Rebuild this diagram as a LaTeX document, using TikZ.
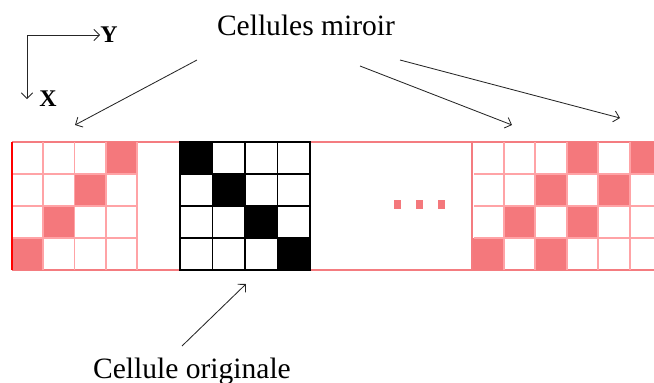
\documentclass[tikz,border=0pt]{standalone}
\usepackage{fontspec}
\setmainfont{Liberation Serif}
\usetikzlibrary{arrows.meta}

\begin{document}
\begin{tikzpicture}[x=0.025cm, y=-0.025cm]
    \def\cellW{31.6}
    \def\cellH{32}

    \definecolor{mirrorFill}{HTML}{F4787C}
    \definecolor{mirrorLine}{HTML}{FFA3A6}
    \definecolor{stripLine}{HTML}{F47C80}

    \tikzset{
        label text/.style={font=\fontsize{21}{25}\selectfont, inner sep=0pt, anchor=base},
        axis text/.style={font=\fontsize{17}{20}\selectfont\bfseries, inner sep=0pt},
        pointer/.style={-{Straight Barb[length=4pt,width=8pt]}, line width=0.6pt, black!85},
        mirror grid/.style={mirrorLine, line width=1.4pt},
    }

    \useasboundingbox (0,0) rectangle (654,383);

    % Axes
    \coordinate (O) at (27,35);
    \node[axis text] (Y) at (109,35) {Y};
    \node[axis text] (X) at (48,99) {X};
    \draw[pointer] (O) -- (O -| Y.west);
    \draw[pointer] (O) -- (O |- X);

    % Strip border
    \draw[stripLine, line width=1.5pt] (12,142) -- (654,142);
    \draw[stripLine, line width=1.5pt] (12,270) -- (654,270);

    % Left mirror cell
    \foreach \c/\r in {3/0,2/1,1/2,0/3}
        \fill[mirrorFill] (12+\c*31.25,142+\r*\cellH) rectangle ++(31.25,\cellH);
    \foreach \i in {1,...,4}
        \draw[mirror grid] (12+\i*31.25,142) -- ++(0,128);
    \foreach \j in {1,2,3}
        \draw[mirror grid] (12,142+\j*\cellH) -- ++(125,0);
    \draw[red, line width=1.2pt] (12,142) -- (12,270);

    % Original cell
    \foreach \k in {0,...,3}
        \fill[black] (180+\k*32.5,142+\k*\cellH) rectangle ++(32.5,\cellH);
    \foreach \i in {1,2,3}
        \draw[black, line width=1.2pt] (180+\i*32.5,142) -- ++(0,128);
    \foreach \j in {1,2,3}
        \draw[black, line width=1.2pt] (180,142+\j*\cellH) -- ++(130,0);
    \draw[black, line width=2pt] (180,142) rectangle (310,270);

    % Dots
    \foreach \x in {397,419,441}
        \fill[mirrorFill] (\x-3.5,200) rectangle ++(7,9);

    % Right mirror cells
    \begin{scope}
        \clip (470,140) rectangle (654,272);
        \foreach \c/\r in {3/0,5/0,2/1,4/1,1/2,3/2,0/3,2/3}
            \fill[mirrorFill] (472+\c*\cellW,142+\r*\cellH) rectangle ++(\cellW,\cellH);
        \foreach \i in {1,...,5}
            \draw[mirror grid] (472+\i*\cellW,142) -- ++(0,128);
        \foreach \j in {1,2,3}
            \draw[mirror grid] (474,142+\j*\cellH) -- (654,142+\j*\cellH);
    \end{scope}
    \draw[stripLine, line width=1.3pt] (472,142) -- (472,270);

    % Labels
    \node[label text] (miroir) at (306,35) {Cellules miroir};
    \node[label text] (orig) at (192,378) {Cellule originale};

    \coordinate (m1) at (75,125);
    \coordinate (m2) at (512,125);
    \coordinate (m3) at (620,118);
    \coordinate (o1) at (246,284);

    \draw[pointer] ([shift={(-109,25)}]miroir.base) -- (m1);
    \draw[pointer] ([shift={(54,31)}]miroir.base) -- (m2);
    \draw[pointer] ([shift={(94,25)}]miroir.base) -- (m3);
    \draw[pointer] ([shift={(-10,-32)}]orig.base) -- (o1);
\end{tikzpicture}
\end{document}
